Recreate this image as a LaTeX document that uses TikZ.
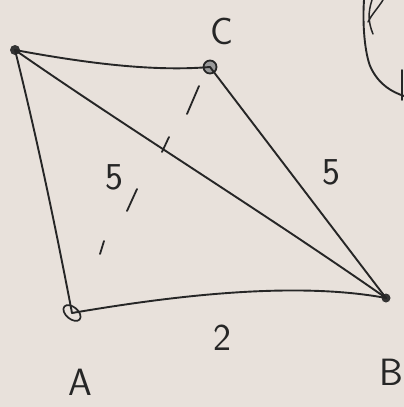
\documentclass[tikz,border=0pt]{standalone}
\usepackage{fontspec}
\setmainfont{DejaVu Sans}
\usetikzlibrary{shapes.geometric}
\begin{document}
\begin{tikzpicture}[x=1pt,y=-1pt,
  pen/.style={draw=black!85,line width=1.9pt,line cap=round,line join=round},
  tick/.style={draw=black!85,line width=1.8pt,line cap=round},
  lbl/.style={text=black!85,font=\fontsize{38}{38}\selectfont\sffamily\mdseries,inner sep=0pt},
  vdot/.style={circle,fill=black!80,inner sep=0pt,minimum size=10pt},
  vring/.style={circle,draw=black!85,line width=1.8pt,inner sep=0pt,minimum size=13pt}]
\fill[gray!15!white!90!brown] (0,0) rectangle (404,407);
\useasboundingbox (0,0) rectangle (404,407);
\clip (0,0) rectangle (404,407);
% vertices
\node[vdot] (D) at (15,50) {};
\node[vring,fill=black!40] (C) at (210,67) {};
\node[vdot,minimum size=9pt] (B) at (386,298) {};
\node[ellipse,draw=black!85,line width=1.7pt,inner sep=0pt,minimum width=20pt,minimum height=12pt,rotate=-40] (A) at (72,313) {};
% edges
\draw[pen] (D.center) .. controls (80,62) and (150,72) .. (C.center);
\draw[pen] (C.center) -- (B.center);
\draw[pen] (D.center) .. controls (130,130) and (260,210) .. (B.center);
\draw[pen] (D.center) .. controls (40,150) and (60,250) .. (A.center);
\draw[pen] (A.center) .. controls (160,298) and (290,280) .. (B.center);
% dashed C--A (hand strokes)
\coordinate (t1a) at (199,86); \coordinate (t1b) at (187,114);
\coordinate (t2a) at (169,137); \coordinate (t2b) at (162,152);
\coordinate (t3a) at (137,189); \coordinate (t3b) at (127,211);
\coordinate (t4a) at (104,241); \coordinate (t4b) at (100,254);
\draw[tick] (t1a) -- (t1b);
\draw[tick] (t2a) -- (t2b);
\draw[tick] (t3a) -- (t3b);
\draw[tick] (t4a) -- (t4b);
% labels
\node[lbl] (lC) at (222,31) {C};
\node[lbl] (l5a) at (114,177) {5};
\node[lbl] (l5b) at (331,172) {5};
\node[lbl] (l2) at (222,338) {2};
\node[lbl] (lA) at (80,382) {A};
\node[lbl] (lB) at (391,372) {B};
% scribble top right
\draw[pen] (364,0) .. controls (362,30) and (366,60) .. (372,70) .. controls (380,85) and (392,92) .. (404,96);
\draw[pen,line width=1.5pt] (372,0) .. controls (368,12) and (368,22) .. (373,34);
\draw[pen,line width=1.5pt] (383,0) .. controls (378,8) and (372,14) .. (368,22);
\draw[pen] (402,70) -- (402,100);
\end{tikzpicture}
\end{document}
